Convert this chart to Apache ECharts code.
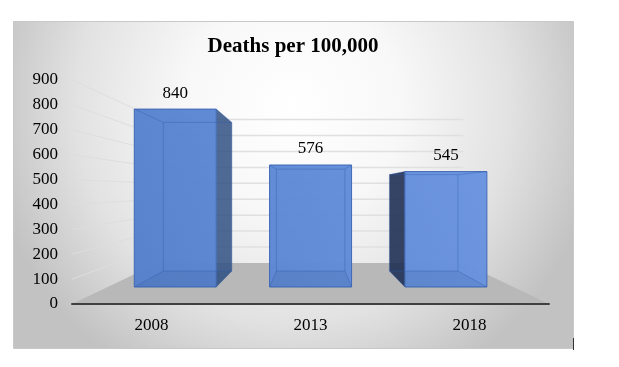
<!DOCTYPE html>
<html lang="en">
<head>
    <meta charset="UTF-8">
    <title>Deaths per 100,000</title>
    <script src="https://cdn.jsdelivr.net/npm/echarts@6/dist/echarts.min.js"></script>
    <style>
        html, body { margin:0; padding:0; background:#fff; }
    </style>
</head>
<body>
    <div id="ec" style="width:619px;height:367px"></div>
</body>
<script>
    var titleText = "Deaths per 100,000"
    var years = ["2008", "2013", "2018"]
    var deaths = [840, 576, 545]
    var yTicks = [0, 100, 200, 300, 400, 500, 600, 700, 800, 900]

    // fake 3d: everything is drawn on the axis plane, then pulled towards this point
    var vp = [311, 190]
    var depthFront = 0.851
    var depthBack = 0.711
    var depthWall = 0.64
    var barShare = 0.606
    var serif = '"Liberation Serif", serif'

    function proj(p, s) {
        return [vp[0] + (p[0] - vp[0]) * s, vp[1] + (p[1] - vp[1]) * s]
    }

    function poly(points, style) {
        return { type:'polygon', shape:{ points:points }, style:style, silent:true }
    }

    function seg(a, b, color, w) {
        return { type:'line', shape:{ x1:a[0], y1:a[1], x2:b[0], y2:b[1] }, style:{ stroke:color, lineWidth:w, fill:null }, silent:true }
    }

    function renderWall(params, api) {
        var v = api.value(0)
        var c = params.coordSys
        var y = api.coord([0, v])[1]
        var left = proj([c.x, y], depthWall)
        var right = proj([c.x + c.width, y], depthWall)
        var kids = []
        if (v > 0) {
            kids.push(seg([c.x, y], left, '#dedede', 1))
            kids.push(seg(left, right, '#e0e0e0', 1.5))
        }
        return { type:'group', children:kids }
    }

    function renderFloor(params, api) {
        var c = params.coordSys
        var y = api.coord([0, 0])[1]
        var a = [c.x, y]
        var b = [c.x + c.width, y]
        return poly([a, b, proj(b, depthWall), proj(a, depthWall)], { fill:'#b8b8b8' })
    }

    function renderBar(params, api) {
        var i = api.value(0)
        var v = api.value(1)
        var half = api.size([1, 0])[0] * barShare / 2
        var mid = api.coord([i, 0])[0]
        var y0 = api.coord([i, 0])[1]
        var y1 = api.coord([i, v])[1]
        var bl = [mid - half, y0], br = [mid + half, y0]
        var tl = [mid - half, y1], tr = [mid + half, y1]
        var f = function (p) { return proj(p, depthFront) }
        var b = function (p) { return proj(p, depthBack) }
        var fill = new echarts.graphic.LinearGradient(134, 287, 487, 171, [
            { offset:0, color:'#5480cb' },
            { offset:1, color:'#6a94e0' }
        ], true)
        var edge = '#3d66b4'
        var inner = 'rgba(50,90,170,0.38)'
        var kids = []
        // outer side faces only show when the bar sits off centre
        if (b(tr)[0] > f(tr)[0]) {
            kids.push(poly([f(tr), b(tr), b(br), f(br)], { fill:'#2f5083', opacity:0.85 }))
        }
        if (b(tl)[0] < f(tl)[0]) {
            kids.push(poly([f(tl), b(tl), b(bl), f(bl)], { fill:'#1a2b50', opacity:0.88 }))
        }
        kids.push(poly([f(bl), f(br), f(tr), f(tl)], { fill:fill, stroke:edge, lineWidth:1, opacity:0.97 }))
        kids.push(poly([f(bl), f(br), b(br), b(bl)], { fill:'rgba(40,70,130,0.12)' }))
        // edges seen through the glass
        kids.push(seg(b(tl), b(tr), inner, 1))
        kids.push(seg(b(tr), b(br), inner, 1))
        kids.push(seg(b(br), b(bl), inner, 1))
        kids.push(seg(b(bl), b(tl), inner, 1))
        kids.push(seg(f(tl), b(tl), inner, 1))
        kids.push(seg(f(tr), b(tr), inner, 1))
        kids.push(seg(f(bl), b(bl), inner, 1))
        kids.push(seg(f(br), b(br), inner, 1))
        var labelAt = f([mid, y1])
        kids.push({
            type:'text', silent:true,
            style:{ x:labelAt[0], y:labelAt[1] - 16, text:String(v), fill:'#000', font:'17px ' + serif, textAlign:'center', textVerticalAlign:'middle' }
        })
        return { type:'group', children:kids }
    }

    var ech = document.getElementById("ec")
    var mychart = echarts.init(ech, null, { renderer:'canvas' })
    var panelFill = new echarts.graphic.RadialGradient(293, 105, 310, [
        { offset:0, color:'#ffffff' },
        { offset:0.35, color:'#f8f8f8' },
        { offset:0.7, color:'#e2e2e2' },
        { offset:1, color:'#c2c2c2' }
    ], true)
    var options = {
        animation:false,
        backgroundColor:'#fff',
        title:{
            text:titleText,
            left:288, top:31, textAlign:'center',
            textStyle:{ fontFamily:serif, fontWeight:'bold', fontSize:21, color:'#000' }
        },
        graphic:[
            { type:'rect', z:-10, silent:true, shape:{ x:13.5, y:21.5, width:560, height:327 }, style:{ fill:panelFill, stroke:'#c8c8c8', lineWidth:1 } },
            { type:'line', z:-9, silent:true, shape:{ x1:573.5, y1:338, x2:573.5, y2:350 }, style:{ stroke:'#333', lineWidth:1 } }
        ],
        grid:{ left:72, top:80, width:477, height:224 },
        xAxis:{
            type:'category',
            z:10,
            data:years,
            axisLine:{ lineStyle:{ color:'#404040', width:2 } },
            axisTick:{ show:false },
            axisLabel:{ color:'#000', fontFamily:serif, fontSize:17, margin:13 }
        },
        yAxis:{
            type:'value',
            min:0, max:900, interval:100,
            axisLine:{ show:false },
            axisTick:{ show:false },
            splitLine:{ show:false },
            axisLabel:{ color:'#000', fontFamily:serif, fontSize:17, margin:14, padding:[3, 0, 0, 0] }
        },
        series:[
            { type:'custom', z:1, clip:false, renderItem:renderWall, encode:{ y:0 }, data:yTicks.map(function (t) { return [t] }) },
            { type:'custom', z:2, clip:false, renderItem:renderFloor, data:[[0]] },
            { type:'custom', z:3, clip:false, renderItem:renderBar, encode:{ x:0, y:1 }, data:deaths.map(function (d, i) { return [i, d] }) }
        ]
    }
    mychart.setOption(options)
</script>
</html>
